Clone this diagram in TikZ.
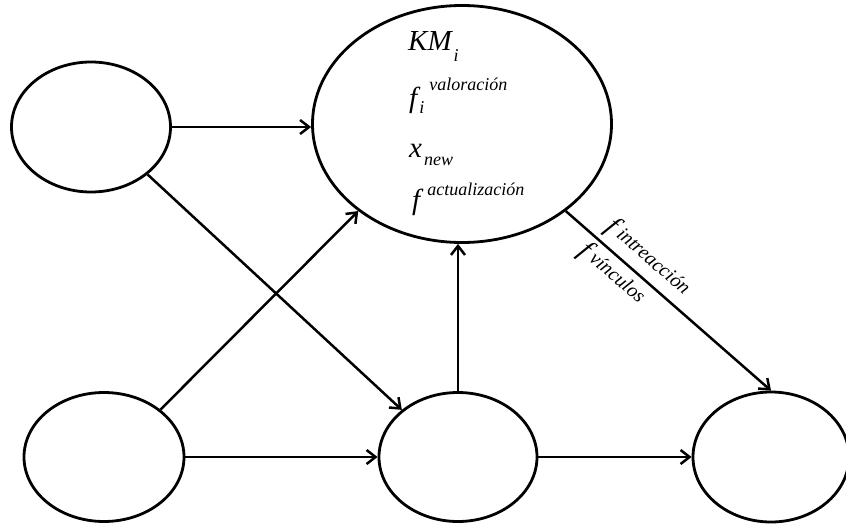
\documentclass[tikz,border=0pt]{standalone}
\usepackage{fontspec}
\setmainfont{Liberation Serif}[ItalicFont={Liberation Serif Italic}]
\usetikzlibrary{shapes.geometric,arrows.meta}
\newcommand{\mybigsz}{\fontsize{29}{29}\selectfont}
\newcommand{\mysupsz}{\fontsize{18}{18}\selectfont}
\newcommand{\mylblsz}{\fontsize{20}{20}\selectfont}
\newcommand{\mylblf}{\fontsize{28}{28}\selectfont}
\begin{document}
\begin{tikzpicture}[x=1pt,y=-1pt,
  state/.style={ellipse,draw,line width=2.8pt,inner sep=0pt},
  arr/.style={line width=2.5pt,-{Straight Barb[length=9pt,width=14pt]}},
  txt/.style={anchor=base west,inner sep=0pt,font=\itshape},
  elbl/.style={sloped,anchor=base,inner sep=0pt,font=\itshape}]
\useasboundingbox (0,0) rectangle (846,525);
\node[state,minimum width=159pt,minimum height=130pt] (tl) at (91,127) {};
\node[state,minimum width=299pt,minimum height=237pt] (big) at (462,124) {};
\node[state,minimum width=160pt,minimum height=129pt] (bl) at (104,457) {};
\node[state,minimum width=158pt,minimum height=129pt] (bm) at (458,457) {};
\node[state,minimum width=156pt,minimum height=130pt] (br) at (771,457) {};

\node[txt] (t1) at (408,50) {\mybigsz KM\kern2pt\raisebox{-11pt}{\mysupsz i}};
\node[txt] (t2) at (409,107) {\mybigsz f\kern2pt\rlap{\raisebox{-6pt}{\mysupsz i}}\kern10pt\raisebox{17pt}{\mysupsz valoración}};
\node[txt] (t3) at (409,157) {\mybigsz x\kern2pt\raisebox{-8pt}{\mysupsz new}};
\node[txt] (t4) at (412,209.5) {\mybigsz f\kern7pt\raisebox{14.5pt}{\mysupsz actualización}};

\draw[arr] (tl.east) -- (tl.east -| big.west);
\draw[arr] (tl.-40) -- (bm.140);
\draw[arr] (bl.40) -- (big.220);
\draw[arr] (bm.north) -- (bm.north |- big.south);
\draw[arr] (bl) -- (bm);
\draw[arr] (bm) -- (br);
\draw[arr] (big.-40) --
  node[elbl,pos=0.34,yshift=12pt] (l1) {\mylblf f\kern5pt\raisebox{2pt}{\mylblsz intreacción}}
  node[elbl,pos=0.28,yshift=-24pt] (l2) {\mylblf f\kern5pt\raisebox{2pt}{\mylblsz vínculos}}
  (br.north);
\end{tikzpicture}
\end{document}
